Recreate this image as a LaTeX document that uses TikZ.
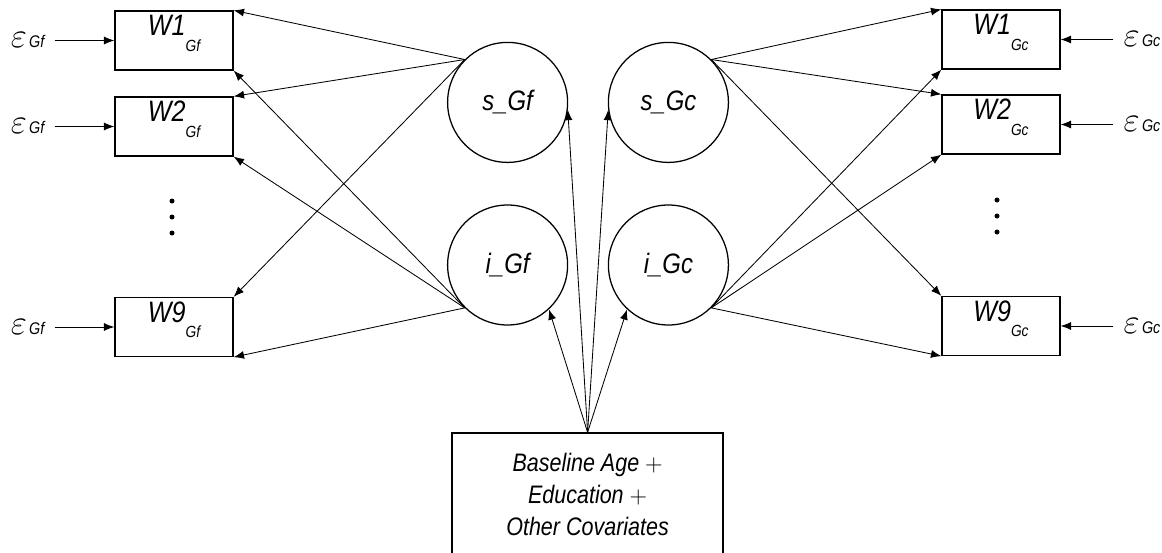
\documentclass[tikz,border=0pt]{standalone}
\usepackage{fontspec}
\setmainfont{Liberation Sans}[FakeStretch=0.85]
\usepackage{tikz}
\usetikzlibrary{arrows.meta}

% labels of the observed boxes and the error terms
\newcommand{\Wlab}[2]{W#1\raisebox{-11pt}[0pt][0pt]{\fontsize{11.5}{11.5}\selectfont #2}}
\newcommand{\errlab}[1]{{\fontsize{25}{25}\selectfont$\varepsilon$}\,{\itshape\fontsize{12}{12}\selectfont #1}}

\begin{document}
\begin{tikzpicture}[
    obs/.style={draw, line width=0.9pt, minimum width=2.95cm, minimum height=1.475cm, inner sep=0pt,
        font=\fontsize{21}{24}\selectfont\itshape, text height=14.5pt, text depth=21.5pt},
    lat/.style={draw, circle, line width=0.9pt, minimum size=3cm, inner sep=0pt,
        font=\fontsize{20}{24}\selectfont\itshape},
    err/.style={inner sep=0.25cm},
    arr/.style={-{Latex[length=2.6mm,width=2mm]}, line width=0.6pt}
]
    \useasboundingbox (0,0) rectangle (29.05,-13.8);

    % Gf side: observed waves
    \node[obs] (W1Gf) at (4.35,-1.0125) {\Wlab{1}{Gf}};
    \node[obs] (W2Gf) at (4.35,-3.1625) {\Wlab{2}{Gf}};
    \node[obs] (W9Gf) at (4.35,-8.175) {\Wlab{9}{Gf}};

    % Gc side: observed waves
    \node[obs] (W1Gc) at (25.025,-0.9875) {\Wlab{1}{Gc}};
    \node[obs] (W2Gc) at (25.025,-3.1125) {\Wlab{2}{Gc}};
    \node[obs] (W9Gc) at (25.025,-8.15) {\Wlab{9}{Gc}};

    % Error terms
    \node[err] (eW1Gf) at (0.69,-1.0125) {\errlab{Gf}};
    \node[err] (eW2Gf) at (0.69,-3.1625) {\errlab{Gf}};
    \node[err] (eW9Gf) at (0.69,-8.175) {\errlab{Gf}};
    \node[err] (eW1Gc) at (28.55,-0.9875) {\errlab{Gc}};
    \node[err] (eW2Gc) at (28.55,-3.1125) {\errlab{Gc}};
    \node[err] (eW9Gc) at (28.55,-8.15) {\errlab{Gc}};

    % Ellipsis dots between wave 2 and wave 9
    \foreach \y in {-5.025,-5.425,-5.825} {
        \fill (4.3,\y) circle (0.0625);
        \fill (24.925,\y+0.025) circle (0.0625);
    }

    % Latent slope and intercept
    \node[lat] (sGf) at (12.69,-2.56) {s\_Gf};
    \node[lat] (sGc) at (16.71,-2.56) {s\_Gc};
    \node[lat] (iGf) at (12.69,-6.625) {i\_Gf};
    \node[lat] (iGc) at (16.71,-6.625) {i\_Gc};

    % Covariates
    \node[draw, line width=0.9pt, minimum width=6.775cm, minimum height=3.075cm, align=center,
        font=\fontsize{18}{22.8}\selectfont\itshape] (Cov) at (14.69,-12.3625)
        {Baseline Age $+$\\ Education $+$\\ Other Covariates};

    % Connections
    \foreach \w in {W1,W2,W9} {
        \draw[arr] (e\w Gf) -- (\w Gf);
        \draw[arr] (e\w Gc) -- (\w Gc);
        \draw[arr] (sGf.135) -- (\w Gf.north east);
        \draw[arr] (iGf.225) -- (\w Gf.south east);
        \draw[arr] (sGc.45) -- (\w Gc.north west);
        \draw[arr] (iGc.-45) -- (\w Gc.south west);
    }
    \draw[arr] (Cov.north) -- (sGf.-7);
    \draw[arr] (Cov.north) -- (sGc.187);
    \draw[arr] (Cov.north) -- (iGf.-47);
    \draw[arr] (Cov.north) -- (iGc.227);

\end{tikzpicture}
\end{document}
